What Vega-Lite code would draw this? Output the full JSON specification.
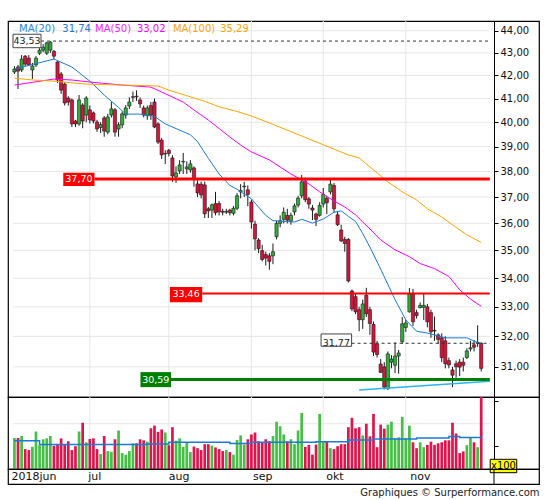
{
"$schema":"https://vega.github.io/schema/vega-lite/v6.json",
"padding":{"left":7,"top":19,"right":7,"bottom":0},
"spacing":0,
"bounds":"flush",
"config":{"font":"DejaVu Sans","view":{"stroke":"#000","strokeWidth":1.2},"axis":{"labelFont":"DejaVu Sans"}},
"title":{"text":"Graphiques © Surperformance.com","orient":"bottom","anchor":"end","fontSize":10,"fontWeight":"normal","color":"#222","offset":3},
"resolve":{"scale":{"x":"independent","y":"independent"}},
"datasets":{
"candles":[
{"i":0,"o":42.15,"h":42.41,"l":42.06,"c":42.28,"v":3420},
{"i":1,"o":42.37,"h":42.46,"l":41.41,"c":42.19,"v":3420},
{"i":2,"o":42.24,"h":42.90,"l":42.15,"c":42.72,"v":3640},
{"i":3,"o":42.85,"h":42.90,"l":42.41,"c":42.50,"v":2200},
{"i":4,"o":42.76,"h":42.90,"l":42.41,"c":42.46,"v":2090},
{"i":5,"o":42.24,"h":42.55,"l":41.84,"c":42.41,"v":2450},
{"i":6,"o":42.46,"h":42.85,"l":42.37,"c":42.76,"v":4140},
{"i":7,"o":42.98,"h":43.21,"l":42.90,"c":43.12,"v":2630},
{"i":8,"o":43.12,"h":43.39,"l":43.03,"c":43.25,"v":3280},
{"i":9,"o":42.98,"h":43.50,"l":42.90,"c":43.45,"v":3380},
{"i":10,"o":43.12,"h":43.53,"l":43.00,"c":43.48,"v":3640},
{"i":11,"o":43.07,"h":43.12,"l":42.72,"c":42.85,"v":2560},
{"i":12,"o":42.59,"h":42.63,"l":41.67,"c":41.80,"v":2700},
{"i":13,"o":42.06,"h":42.15,"l":41.20,"c":41.36,"v":3380},
{"i":14,"o":41.62,"h":41.70,"l":40.70,"c":40.81,"v":2700},
{"i":15,"o":41.02,"h":41.10,"l":40.70,"c":40.85,"v":3060},
{"i":16,"o":40.94,"h":41.00,"l":39.80,"c":39.93,"v":2090},
{"i":17,"o":40.05,"h":40.10,"l":39.80,"c":39.93,"v":2520},
{"i":18,"o":39.93,"h":41.15,"l":39.85,"c":40.94,"v":4140},
{"i":19,"o":40.72,"h":40.80,"l":39.75,"c":40.05,"v":5110},
{"i":20,"o":40.30,"h":41.10,"l":40.00,"c":41.02,"v":2950},
{"i":21,"o":40.52,"h":40.70,"l":39.95,"c":40.10,"v":3310},
{"i":22,"o":40.39,"h":40.45,"l":39.95,"c":40.05,"v":3380},
{"i":23,"o":40.01,"h":40.10,"l":39.60,"c":39.72,"v":2200},
{"i":24,"o":39.78,"h":40.00,"l":39.55,"c":39.90,"v":1660},
{"i":25,"o":40.18,"h":40.26,"l":39.40,"c":39.63,"v":3640},
{"i":26,"o":39.59,"h":40.35,"l":39.50,"c":40.22,"v":1980},
{"i":27,"o":40.30,"h":40.85,"l":40.20,"c":40.56,"v":1910},
{"i":28,"o":40.52,"h":40.60,"l":39.40,"c":39.59,"v":3280},
{"i":29,"o":39.72,"h":40.00,"l":39.40,"c":39.89,"v":4250},
{"i":30,"o":39.89,"h":40.45,"l":39.75,"c":40.35,"v":1760},
{"i":31,"o":40.30,"h":40.72,"l":40.15,"c":40.60,"v":1580},
{"i":32,"o":40.68,"h":41.05,"l":40.55,"c":40.85,"v":1980},
{"i":33,"o":41.05,"h":41.30,"l":40.85,"c":41.08,"v":2840},
{"i":34,"o":41.10,"h":41.35,"l":40.90,"c":41.07,"v":2840},
{"i":35,"o":40.94,"h":41.05,"l":40.60,"c":40.77,"v":3280},
{"i":36,"o":40.60,"h":40.70,"l":40.20,"c":40.30,"v":3170},
{"i":37,"o":40.27,"h":40.70,"l":40.10,"c":40.60,"v":3020},
{"i":38,"o":40.70,"h":40.85,"l":40.10,"c":40.30,"v":4500},
{"i":39,"o":40.85,"h":41.00,"l":39.75,"c":39.80,"v":4790},
{"i":40,"o":39.93,"h":40.00,"l":39.10,"c":39.18,"v":4100},
{"i":41,"o":39.26,"h":39.35,"l":38.50,"c":38.66,"v":4360},
{"i":42,"o":38.70,"h":38.85,"l":38.30,"c":38.72,"v":4030},
{"i":43,"o":38.85,"h":38.90,"l":38.60,"c":38.72,"v":2630},
{"i":44,"o":38.54,"h":38.65,"l":37.59,"c":37.82,"v":4610},
{"i":45,"o":37.78,"h":38.20,"l":37.55,"c":37.94,"v":3130},
{"i":46,"o":38.02,"h":38.45,"l":37.90,"c":38.26,"v":3380},
{"i":47,"o":38.38,"h":38.74,"l":37.90,"c":38.40,"v":2450},
{"i":48,"o":38.10,"h":38.40,"l":37.90,"c":38.18,"v":2950},
{"i":49,"o":38.06,"h":38.45,"l":37.95,"c":38.30,"v":1870},
{"i":50,"o":38.14,"h":38.20,"l":37.40,"c":37.70,"v":2480},
{"i":51,"o":37.51,"h":37.65,"l":37.00,"c":37.16,"v":2300},
{"i":52,"o":37.50,"h":37.60,"l":36.95,"c":37.08,"v":2090},
{"i":53,"o":37.47,"h":37.60,"l":36.20,"c":36.36,"v":2740},
{"i":54,"o":36.55,"h":36.62,"l":36.20,"c":36.47,"v":2740},
{"i":55,"o":36.50,"h":36.75,"l":36.20,"c":36.70,"v":2590},
{"i":56,"o":36.75,"h":37.20,"l":36.30,"c":36.40,"v":2380},
{"i":57,"o":36.75,"h":36.85,"l":36.30,"c":36.43,"v":2200},
{"i":58,"o":36.45,"h":36.55,"l":36.30,"c":36.42,"v":1980},
{"i":59,"o":36.42,"h":36.55,"l":36.35,"c":36.45,"v":2090},
{"i":60,"o":36.50,"h":36.55,"l":36.30,"c":36.40,"v":1870},
{"i":61,"o":36.38,"h":36.65,"l":36.30,"c":36.57,"v":1580},
{"i":62,"o":36.57,"h":37.15,"l":36.50,"c":37.05,"v":3200},
{"i":63,"o":37.20,"h":37.50,"l":36.95,"c":37.25,"v":3710},
{"i":64,"o":37.40,"h":37.59,"l":37.00,"c":37.42,"v":2700},
{"i":65,"o":37.28,"h":37.45,"l":36.65,"c":37.10,"v":3280},
{"i":66,"o":36.81,"h":36.90,"l":35.80,"c":36.05,"v":3820},
{"i":67,"o":35.97,"h":36.10,"l":35.00,"c":35.42,"v":4030},
{"i":68,"o":35.38,"h":35.45,"l":34.90,"c":35.06,"v":3060},
{"i":69,"o":34.99,"h":35.20,"l":34.60,"c":34.67,"v":2950},
{"i":70,"o":34.85,"h":34.95,"l":34.45,"c":34.72,"v":3280},
{"i":71,"o":34.80,"h":34.90,"l":34.30,"c":34.60,"v":3060},
{"i":72,"o":34.80,"h":35.25,"l":34.50,"c":34.95,"v":3640},
{"i":73,"o":35.50,"h":36.10,"l":35.40,"c":36.00,"v":5220},
{"i":74,"o":36.00,"h":36.30,"l":35.85,"c":36.10,"v":4720},
{"i":75,"o":36.15,"h":36.60,"l":36.00,"c":36.42,"v":3820},
{"i":76,"o":36.30,"h":36.55,"l":36.00,"c":36.12,"v":3060},
{"i":77,"o":36.08,"h":36.40,"l":35.95,"c":36.30,"v":3280},
{"i":78,"o":36.43,"h":36.75,"l":36.30,"c":36.66,"v":2740},
{"i":79,"o":36.69,"h":37.05,"l":36.60,"c":36.96,"v":4250},
{"i":80,"o":37.05,"h":37.86,"l":36.95,"c":37.59,"v":6190},
{"i":81,"o":37.62,"h":37.75,"l":36.80,"c":36.90,"v":2450},
{"i":82,"o":36.93,"h":37.00,"l":36.55,"c":36.73,"v":2660},
{"i":83,"o":36.58,"h":36.70,"l":36.12,"c":36.50,"v":1580},
{"i":84,"o":36.35,"h":36.40,"l":35.90,"c":36.15,"v":2700},
{"i":85,"o":36.30,"h":36.80,"l":36.25,"c":36.68,"v":6080},
{"i":86,"o":36.73,"h":37.35,"l":36.60,"c":37.10,"v":3020},
{"i":87,"o":36.95,"h":37.05,"l":36.35,"c":36.78,"v":3020},
{"i":88,"o":37.20,"h":37.70,"l":37.10,"c":37.50,"v":2300},
{"i":89,"o":37.45,"h":37.55,"l":36.40,"c":36.55,"v":2200},
{"i":90,"o":36.32,"h":36.45,"l":35.90,"c":35.95,"v":2520},
{"i":91,"o":35.75,"h":35.95,"l":35.30,"c":35.35,"v":2740},
{"i":92,"o":35.40,"h":35.50,"l":34.95,"c":35.25,"v":2740},
{"i":93,"o":35.40,"h":35.45,"l":33.85,"c":33.90,"v":4610},
{"i":94,"o":33.55,"h":33.60,"l":32.85,"c":32.93,"v":5650},
{"i":95,"o":33.35,"h":33.46,"l":32.75,"c":32.83,"v":4500},
{"i":96,"o":32.90,"h":33.00,"l":32.17,"c":32.56,"v":4610},
{"i":97,"o":32.56,"h":33.25,"l":32.25,"c":33.10,"v":3710},
{"i":98,"o":33.40,"h":33.66,"l":32.65,"c":32.76,"v":5000},
{"i":99,"o":32.90,"h":33.00,"l":32.05,"c":32.43,"v":3600},
{"i":100,"o":32.40,"h":32.50,"l":31.35,"c":31.48,"v":6080},
{"i":101,"o":31.75,"h":31.85,"l":31.30,"c":31.40,"v":2410},
{"i":102,"o":31.09,"h":31.25,"l":30.80,"c":30.82,"v":4900},
{"i":103,"o":31.00,"h":31.15,"l":30.28,"c":30.35,"v":4460},
{"i":104,"o":30.30,"h":31.50,"l":30.26,"c":31.42,"v":4900},
{"i":105,"o":31.15,"h":31.38,"l":30.95,"c":31.25,"v":5220},
{"i":106,"o":31.05,"h":31.80,"l":30.80,"c":31.35,"v":3380},
{"i":107,"o":31.35,"h":31.55,"l":30.78,"c":31.45,"v":3490},
{"i":108,"o":31.82,"h":32.65,"l":31.75,"c":32.42,"v":5760},
{"i":109,"o":32.30,"h":32.55,"l":32.15,"c":32.45,"v":3380},
{"i":110,"o":32.83,"h":33.65,"l":32.80,"c":33.45,"v":4790},
{"i":111,"o":33.45,"h":33.62,"l":32.35,"c":32.49,"v":2950},
{"i":112,"o":32.80,"h":32.90,"l":32.60,"c":32.70,"v":2300},
{"i":113,"o":32.97,"h":33.15,"l":32.95,"c":33.05,"v":2950},
{"i":114,"o":32.98,"h":33.46,"l":32.55,"c":33.05,"v":2410},
{"i":115,"o":33.00,"h":33.10,"l":32.30,"c":32.49,"v":2660},
{"i":116,"o":32.80,"h":32.90,"l":31.95,"c":32.15,"v":3020},
{"i":117,"o":32.20,"h":32.67,"l":31.85,"c":32.18,"v":2660},
{"i":118,"o":32.05,"h":32.10,"l":31.75,"c":31.90,"v":2840},
{"i":119,"o":31.95,"h":32.10,"l":31.15,"c":31.30,"v":2950},
{"i":120,"o":31.85,"h":32.00,"l":30.95,"c":31.10,"v":3170},
{"i":121,"o":31.20,"h":31.30,"l":30.95,"c":31.06,"v":3170},
{"i":122,"o":30.90,"h":31.00,"l":30.35,"c":30.73,"v":5110},
{"i":123,"o":31.10,"h":31.20,"l":30.65,"c":31.00,"v":3920},
{"i":124,"o":31.15,"h":31.25,"l":30.70,"c":30.99,"v":1760},
{"i":125,"o":31.15,"h":31.30,"l":30.85,"c":31.05,"v":1940},
{"i":126,"o":31.30,"h":31.60,"l":31.25,"c":31.52,"v":2630},
{"i":127,"o":31.58,"h":31.85,"l":31.50,"c":31.62,"v":3420},
{"i":128,"o":31.72,"h":31.88,"l":31.50,"c":31.64,"v":2950},
{"i":129,"o":31.76,"h":32.37,"l":31.65,"c":31.80,"v":2410},
{"i":130,"o":31.77,"h":31.80,"l":30.85,"c":30.95,"v":8200}
],
"ma":[
{"s":"MA20","i":0,"v":42.28},{"s":"MA20","i":11,"v":42.72},{"s":"MA20","i":16,"v":42.37},{"s":"MA20","i":21,"v":41.75},{"s":"MA20","i":25,"v":41.15},{"s":"MA20","i":29,"v":40.62},{"s":"MA20","i":31,"v":40.34},{"s":"MA20","i":35,"v":40.34},{"s":"MA20","i":39,"v":40.24},{"s":"MA20","i":42,"v":39.93},{"s":"MA20","i":49,"v":39.48},{"s":"MA20","i":51,"v":39.20},{"s":"MA20","i":54,"v":38.52},{"s":"MA20","i":57,"v":37.90},{"s":"MA20","i":60,"v":37.45},{"s":"MA20","i":62,"v":37.30},{"s":"MA20","i":66,"v":36.93},{"s":"MA20","i":70,"v":36.30},{"s":"MA20","i":72,"v":36.10},{"s":"MA20","i":78,"v":36.05},{"s":"MA20","i":80,"v":36.15},{"s":"MA20","i":83,"v":36.01},{"s":"MA20","i":86,"v":36.16},{"s":"MA20","i":89,"v":36.42},{"s":"MA20","i":91,"v":36.47},{"s":"MA20","i":93,"v":36.26},{"s":"MA20","i":95,"v":36.07},{"s":"MA20","i":97,"v":35.62},{"s":"MA20","i":99,"v":35.12},{"s":"MA20","i":102,"v":34.32},{"s":"MA20","i":106,"v":33.25},{"s":"MA20","i":109,"v":32.55},{"s":"MA20","i":112,"v":32.17},{"s":"MA20","i":115,"v":32.11},{"s":"MA20","i":120,"v":31.95},{"s":"MA20","i":126,"v":31.95},{"s":"MA20","i":130,"v":31.74},
{"s":"MA50","i":0,"v":41.58},{"s":"MA50","i":11,"v":41.84},{"s":"MA50","i":16,"v":41.80},{"s":"MA50","i":21,"v":41.71},{"s":"MA50","i":30,"v":41.58},{"s":"MA50","i":38,"v":41.49},{"s":"MA50","i":41,"v":41.28},{"s":"MA50","i":47,"v":40.85},{"s":"MA50","i":50,"v":40.51},{"s":"MA50","i":54,"v":40.09},{"s":"MA50","i":60,"v":39.39},{"s":"MA50","i":63,"v":39.06},{"s":"MA50","i":66,"v":38.78},{"s":"MA50","i":71,"v":38.46},{"s":"MA50","i":77,"v":37.90},{"s":"MA50","i":82,"v":37.51},{"s":"MA50","i":85,"v":37.20},{"s":"MA50","i":89,"v":36.85},{"s":"MA50","i":92,"v":36.62},{"s":"MA50","i":95,"v":36.32},{"s":"MA50","i":97,"v":36.05},{"s":"MA50","i":99,"v":35.79},{"s":"MA50","i":102,"v":35.38},{"s":"MA50","i":106,"v":35.02},{"s":"MA50","i":110,"v":34.77},{"s":"MA50","i":113,"v":34.52},{"s":"MA50","i":117,"v":34.34},{"s":"MA50","i":121,"v":34.06},{"s":"MA50","i":124,"v":33.59},{"s":"MA50","i":127,"v":33.27},{"s":"MA50","i":130,"v":33.02},
{"s":"MA100","i":0,"v":41.88},{"s":"MA100","i":5,"v":41.80},{"s":"MA100","i":11,"v":41.75},{"s":"MA100","i":20,"v":41.62},{"s":"MA100","i":30,"v":41.58},{"s":"MA100","i":40,"v":41.54},{"s":"MA100","i":43,"v":41.36},{"s":"MA100","i":48,"v":41.12},{"s":"MA100","i":53,"v":40.88},{"s":"MA100","i":57,"v":40.65},{"s":"MA100","i":62,"v":40.45},{"s":"MA100","i":66,"v":40.26},{"s":"MA100","i":71,"v":39.97},{"s":"MA100","i":80,"v":39.43},{"s":"MA100","i":93,"v":38.66},{"s":"MA100","i":96,"v":38.54},{"s":"MA100","i":104,"v":37.59},{"s":"MA100","i":108,"v":37.20},{"s":"MA100","i":112,"v":36.89},{"s":"MA100","i":115,"v":36.55},{"s":"MA100","i":119,"v":36.24},{"s":"MA100","i":122,"v":35.94},{"s":"MA100","i":126,"v":35.57},{"s":"MA100","i":130,"v":35.29}
],
"vma":[{"i":0,"v":3130},{"i":7,"v":2700},{"i":37,"v":2770},{"i":43,"v":2950},{"i":60,"v":2810},{"i":66,"v":2950},{"i":84,"v":3020},{"i":93,"v":3200},{"i":100,"v":3310},{"i":112,"v":3420},{"i":121,"v":3600},{"i":124,"v":3490},{"i":130,"v":3490}],
"trend":[{"i":96,"p":30.26},{"i":132.4,"p":30.54}],
"grid":[{"p":31},{"p":32},{"p":33},{"p":34},{"p":35},{"p":36},{"p":37},{"p":38},{"p":39},{"p":40},{"p":41},{"p":42},{"p":43},{"p":44}],
"vgrid":[{"v":5000}],
"months":[{"i":0,"m":"2018jun"},{"i":21,"m":"jul"},{"i":43,"m":"aug"},{"i":66,"m":"sep"},{"i":86,"m":"okt"},{"i":109,"m":"nov"}],
"levels":[{"k":"hi","p":43.53,"t":"43,53"},{"k":"last","p":31.77,"t":"31,77"},{"k":"r1","p":37.70,"t":"37,70"},{"k":"r2","p":33.46,"t":"33,46"},{"k":"s1","p":30.59,"t":"30,59"}],
"leg":[{"s":"MA20","n":"MA(20)","val":"31,74"},{"s":"MA50","n":"MA(50)","val":"33,02"},{"s":"MA100","n":"MA(100)","val":"35,29"}],
"unit":[{"t":"x100"}]
},
"vconcat":[
{
"width":531,"height":376,
"layer":[
{"data":{"name":"grid"},"mark":{"type":"rule","color":"#e6e6e6","strokeWidth":1},
 "encoding":{"x":{"datum":-0.4,"type":"quantitative","scale":{"domain":[-0.4,144.7],"nice":false,"zero":false},"axis":null},"x2":{"datum":132.4},
 "y":{"field":"p","type":"quantitative","scale":{"type":"log","domain":[30.04,44.45],"nice":false,"zero":false},
  "axis":{"orient":"right","offset":-45,"values":[31,32,33,34,35,36,37,38,39,40,41,42,43,44],"labelExpr":"replace(format(datum.value, '.2f'), '.', ',')","grid":false,"tickSize":4,"tickColor":"#000","domainColor":"#000","labelFontSize":10,"labelColor":"#111","labelPadding":2,"title":null,"labelFlush":false,"labelOverlap":false}}}},
{"data":{"name":"months"},"transform":[{"filter":"datum.i > 0"}],"mark":{"type":"rule","color":"#e6e6e6","strokeWidth":1},"encoding":{"x":{"field":"i","type":"quantitative"}}},
{"data":{"name":"candles"},"mark":{"type":"rule","color":"#1a1a1a","strokeWidth":1},"encoding":{"x":{"field":"i","type":"quantitative"},"y":{"field":"l","type":"quantitative"},"y2":{"field":"h"}}},
{"data":{"name":"candles"},"mark":{"type":"bar","size":3.2,"stroke":"#1a1a1a","strokeWidth":0.6},"encoding":{"x":{"field":"i","type":"quantitative"},"y":{"field":"o","type":"quantitative"},"y2":{"field":"c"},"fill":{"condition":{"test":"datum.c >= datum.o","value":"#2fae3a"},"value":"#d4163c"}}},
{"data":{"name":"ma"},"mark":{"type":"line","strokeWidth":1},"encoding":{"x":{"field":"i","type":"quantitative"},"y":{"field":"v","type":"quantitative"},"color":{"field":"s","type":"nominal","scale":{"domain":["MA20","MA50","MA100"],"range":["#1b7ad8","#ff00ff","#ffa500"]},"legend":null}}},
{"data":{"name":"trend"},"mark":{"type":"line","color":"#2ab4f5","strokeWidth":1.5},"encoding":{"x":{"field":"i","type":"quantitative"},"y":{"field":"p","type":"quantitative"}}},
{"data":{"name":"levels"},"transform":[{"filter":"datum.k == 'hi'"}],"mark":{"type":"rule","color":"#333","strokeWidth":1,"strokeDash":[3,3]},"encoding":{"x":{"datum":7.4},"x2":{"datum":132.4},"y":{"field":"p","type":"quantitative"}}},
{"data":{"name":"levels"},"transform":[{"filter":"datum.k == 'last'"}],"mark":{"type":"rule","color":"#333","strokeWidth":1,"strokeDash":[3,3]},"encoding":{"x":{"datum":93.9},"x2":{"datum":132.4},"y":{"field":"p","type":"quantitative"}}},
{"data":{"name":"levels"},"transform":[{"filter":"datum.k == 'r1'"}],"mark":{"type":"rule","color":"#ff0000","strokeWidth":3},"encoding":{"x":{"datum":22.3},"x2":{"datum":132.4},"y":{"field":"p","type":"quantitative"}}},
{"data":{"name":"levels"},"transform":[{"filter":"datum.k == 'r2'"}],"mark":{"type":"rule","color":"#ff0000","strokeWidth":2},"encoding":{"x":{"datum":52.3},"x2":{"datum":132.4},"y":{"field":"p","type":"quantitative"}}},
{"data":{"name":"levels"},"transform":[{"filter":"datum.k == 's1'"}],"mark":{"type":"rule","color":"#008000","strokeWidth":3},"encoding":{"x":{"datum":43.6},"x2":{"datum":132.4},"y":{"field":"p","type":"quantitative"}}},
{"data":{"name":"levels"},"transform":[{"filter":"datum.k == 'hi'"}],"mark":{"type":"rect","fill":"#fff","stroke":"#444","strokeWidth":1},"encoding":{"x":{"datum":-0.4},"x2":{"datum":7.4},"y":{"datum":43.84},"y2":{"datum":43.23}}},
{"data":{"name":"levels"},"transform":[{"filter":"datum.k == 'last'"}],"mark":{"type":"rect","fill":"#fff","stroke":"#444","strokeWidth":1},"encoding":{"x":{"datum":85.4},"x2":{"datum":93.9},"y":{"datum":32.08},"y2":{"datum":31.67}}},
{"data":{"name":"levels"},"transform":[{"filter":"datum.k == 'r1'"}],"mark":{"type":"rect","fill":"#ff0000"},"encoding":{"x":{"datum":13.6},"x2":{"datum":22.3},"y":{"datum":37.95},"y2":{"datum":37.43}}},
{"data":{"name":"levels"},"transform":[{"filter":"datum.k == 'r2'"}],"mark":{"type":"rect","fill":"#ff0000"},"encoding":{"x":{"datum":43.3},"x2":{"datum":52.3},"y":{"datum":33.69},"y2":{"datum":33.16}}},
{"data":{"name":"levels"},"transform":[{"filter":"datum.k == 's1'"}],"mark":{"type":"rect","fill":"#008000"},"encoding":{"x":{"datum":35.1},"x2":{"datum":43.6},"y":{"datum":30.83},"y2":{"datum":30.35}}},
{"data":{"name":"levels"},"transform":[{"filter":"datum.k == 'hi'"}],"mark":{"type":"text","fontSize":9.5,"color":"#222","align":"center","baseline":"middle"},"encoding":{"x":{"datum":3.5},"y":{"field":"p","type":"quantitative"},"text":{"field":"t"}}},
{"data":{"name":"levels"},"transform":[{"filter":"datum.k == 'last'"}],"mark":{"type":"text","fontSize":9.5,"color":"#222","align":"center","baseline":"middle"},"encoding":{"x":{"datum":89.65},"y":{"field":"p","type":"quantitative"},"text":{"field":"t"}}},
{"data":{"name":"levels"},"transform":[{"filter":"datum.k == 'r1'"}],"mark":{"type":"text","fontSize":9.5,"color":"#fff","align":"center","baseline":"middle"},"encoding":{"x":{"datum":17.95},"y":{"field":"p","type":"quantitative"},"text":{"field":"t"}}},
{"data":{"name":"levels"},"transform":[{"filter":"datum.k == 'r2'"}],"mark":{"type":"text","fontSize":9.5,"color":"#fff","align":"center","baseline":"middle"},"encoding":{"x":{"datum":47.8},"y":{"field":"p","type":"quantitative"},"text":{"field":"t"}}},
{"data":{"name":"levels"},"transform":[{"filter":"datum.k == 's1'"}],"mark":{"type":"text","fontSize":9.5,"color":"#fff","align":"center","baseline":"middle"},"encoding":{"x":{"datum":39.35},"y":{"field":"p","type":"quantitative"},"text":{"field":"t"}}},
{"data":{"name":"leg"},"transform":[{"filter":"datum.s == 'MA20'"}],"mark":{"type":"text","fontSize":10,"color":"#2a86e0","align":"left","baseline":"middle"},"encoding":{"x":{"datum":1.3},"y":{"datum":44.09},"text":{"field":"n"}}},
{"data":{"name":"leg"},"transform":[{"filter":"datum.s == 'MA20'"}],"mark":{"type":"text","fontSize":10,"color":"#1b7ad8","align":"left","baseline":"middle"},"encoding":{"x":{"datum":13.33},"y":{"datum":44.09},"text":{"field":"val"}}},
{"data":{"name":"leg"},"transform":[{"filter":"datum.s == 'MA50'"}],"mark":{"type":"text","fontSize":10,"color":"#ff22ff","align":"left","baseline":"middle"},"encoding":{"x":{"datum":22.46},"y":{"datum":44.09},"text":{"field":"n"}}},
{"data":{"name":"leg"},"transform":[{"filter":"datum.s == 'MA50'"}],"mark":{"type":"text","fontSize":10,"color":"#ff00ff","align":"left","baseline":"middle"},"encoding":{"x":{"datum":34.1},"y":{"datum":44.09},"text":{"field":"val"}}},
{"data":{"name":"leg"},"transform":[{"filter":"datum.s == 'MA100'"}],"mark":{"type":"text","fontSize":10,"color":"#ffa500","align":"left","baseline":"middle"},"encoding":{"x":{"datum":44.13},"y":{"datum":44.09},"text":{"field":"n"}}},
{"data":{"name":"leg"},"transform":[{"filter":"datum.s == 'MA100'"}],"mark":{"type":"text","fontSize":10,"color":"#ffa500","align":"left","baseline":"middle"},"encoding":{"x":{"datum":57.3},"y":{"datum":44.09},"text":{"field":"val"}}}
]
},
{
"width":531,"height":72,
"layer":[
{"data":{"name":"months"},"transform":[{"filter":"datum.i > 0"}],"mark":{"type":"rule","color":"#e6e6e6","strokeWidth":1},"encoding":{"x":{"field":"i","type":"quantitative","scale":{"domain":[-0.4,144.7],"nice":false,"zero":false},"axis":null}}},
{"data":{"name":"vgrid"},"mark":{"type":"rule","color":"#e6e6e6","strokeWidth":1},"encoding":{"x":{"datum":-0.4},"x2":{"datum":132.4},
 "y":{"field":"v","type":"quantitative","scale":{"domain":[0,7950],"nice":false,"zero":false},
  "axis":{"orient":"right","offset":-45,"values":[2500,5000,7500],"labelExpr":"datum.value == 5000 ? '5000' : ''","grid":false,"tickSize":4,"tickColor":"#000","domainColor":"#000","labelFontSize":10,"labelColor":"#111","labelPadding":3,"title":null,"labelFlush":false,"labelOverlap":false}}}},
{"data":{"name":"candles"},"mark":{"type":"bar","size":2.7,"clip":true},"encoding":{"x":{"field":"i","type":"quantitative"},"y":{"field":"v","type":"quantitative"},"color":{"condition":{"test":"datum.c >= datum.o","value":"#44c044"},"value":"#e0144c"}}},
{"data":{"name":"vma"},"mark":{"type":"line","interpolate":"step-after","color":"#1a7ad8","strokeWidth":1.5},"encoding":{"x":{"field":"i","type":"quantitative"},"y":{"field":"v","type":"quantitative"}}},
{"data":{"name":"unit"},"mark":{"type":"rect","fill":"#ffff00","stroke":"#000","strokeWidth":1},"encoding":{"x":{"datum":132.5},"x2":{"datum":139.9},"y":{"datum":1071},"y2":{"datum":-408}}},
{"data":{"name":"unit"},"mark":{"type":"text","fontSize":10,"color":"#000","align":"center","baseline":"middle"},"encoding":{"x":{"datum":136.2},"y":{"datum":331},"text":{"field":"t"}}}
]
},
{
"width":531,"height":15,
"layer":[
{"data":{"name":"months"},"mark":{"type":"text","align":"left","dx":2,"fontSize":11,"color":"#111","baseline":"middle"},"encoding":{"x":{"field":"i","type":"quantitative","scale":{"domain":[-0.4,144.7],"nice":false,"zero":false},"axis":null},"text":{"field":"m"}}},
{"data":{"name":"unit"},"mark":{"type":"rule","color":"#000","strokeWidth":1},"encoding":{"x":{"datum":132.4}}}
]
}
]
}
